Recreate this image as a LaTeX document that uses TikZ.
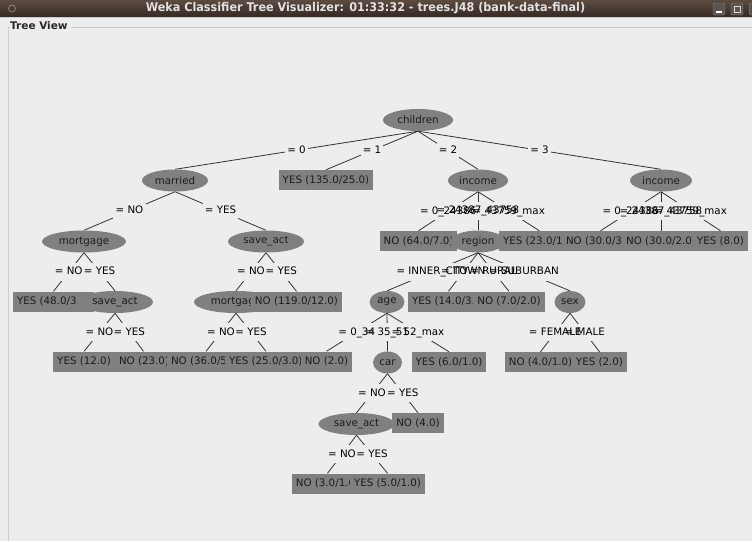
\documentclass[tikz,border=0pt]{standalone}
\usepackage{graphicx}
\usepackage{fontspec}
\setmainfont{DejaVu Sans}
\usetikzlibrary{shapes.geometric,calc}

\pgfdeclarelayer{backdrop}
\pgfdeclarelayer{edgelayer}
\pgfdeclarelayer{tagbg}
\pgfsetlayers{backdrop,edgelayer,tagbg,main}

\definecolor{panel}{HTML}{EDEDED}
\definecolor{nodegray}{HTML}{808080}
\definecolor{nodetext}{HTML}{1C1C1C}
\definecolor{barTop}{HTML}{5C4B40}
\definecolor{barBot}{HTML}{352923}
\definecolor{frameline}{HTML}{C8CDD3}
\definecolor{titletext}{HTML}{E2E2E2}

\tikzset{
  every node/.style={font=\fontsize{10.3}{12}\selectfont},
  inner/.style={ellipse, fill=nodegray, text=nodetext, minimum height=22pt, inner sep=0pt},
  leaf/.style={rectangle, fill=nodegray, text=nodetext, minimum height=20pt,
               inner xsep=4pt, inner ysep=0pt},
  tag/.style={text=black, inner xsep=2pt, inner ysep=3.5pt, text height=8pt, text depth=2.5pt},
  edge/.style={draw=black!80, line width=0.8pt},
  winbtn/.style={draw=white!55!black, fill=barBot!80!white, rounded corners=1.5pt,
                 minimum width=12pt, minimum height=12pt, inner sep=0pt},
}

% left-aligned leaf text of fixed width (the part that stays visible)
\newcommand\cut[2]{\makebox[#1][l]{#2}}

% branch: line from parent to child with its test written half-way
\newcommand\treeedge[3]{%
  \node[tag] (#1-#2) at ($(#1.south)!0.5!(#2.north)$) {#3};
  \begin{pgfonlayer}{edgelayer}
    \draw[edge] (#1.south) -- (#2.north);
  \end{pgfonlayer}
  \begin{pgfonlayer}{tagbg}
    \fill[panel] (#1-#2.south west) rectangle (#1-#2.north east);
  \end{pgfonlayer}
}

\begin{document}
\begin{tikzpicture}[x=1pt, y=-1pt]
\useasboundingbox (0,0) rectangle (752,541);
\begin{pgfonlayer}{backdrop}
  \fill[panel] (0,0) rectangle (752,541);
\end{pgfonlayer}

% ---- window title bar ----
\shade[top color=barTop, bottom color=barBot] (0,0) rectangle (752,17);
\draw[white!80!black, line width=0.6pt] (0,17.5) -- (752,17.5);
\draw[white!60!black, line width=0.6pt] (12,8.5) circle (3.5);
\node[text=titletext, font=\bfseries\fontsize{12}{14}\selectfont] (title) at (365.5,8.5)
  {\scalebox{0.935}[1]{Weka Classifier Tree Visualizer: 01:33:32 - trees.J48 (bank-data-final)}};
\node[winbtn] (btnmin) at (719,9) {};
\draw[white, line width=1.2pt] ([xshift=-3pt,yshift=-3pt]btnmin.center) -- ([xshift=3pt,yshift=-3pt]btnmin.center);
\node[winbtn] (btnmax) at (737,9) {};
\draw[white!85!black, line width=0.8pt] ([xshift=-3pt,yshift=-3pt]btnmax.center) rectangle ([xshift=3pt,yshift=3pt]btnmax.center);
\node[winbtn, minimum width=6pt, anchor=west] (btnx) at (749,9) {};

% ---- titled panel frame ----
\node[anchor=west, text=black!85, inner sep=0pt, font=\bfseries\fontsize{10.5}{12}\selectfont] (panelname) at (10,26) {Tree View};
\coordinate (frameTL) at (8.5,27.5);
\coordinate (frameBL) at (8.5,541);
\coordinate (frameTR) at (752,27.5);
\draw[frameline, line width=0.8pt] (frameBL) -- (frameTL) -- ([xshift=-1pt]panelname.west |- frameTL);
\draw[frameline, line width=0.8pt] ([xshift=3pt]panelname.east |- frameTL) -- (frameTR);

% ---- level 1 ----
\node[inner, minimum width=70pt] (children) at (418,120) {children};

% ---- level 2 ----
\node[inner, minimum width=66pt] (married) at (175,180.5) {married};
\node[leaf, minimum width=94pt] (c1) at (326,180) {YES (135.0/25.0)};
\node[inner, minimum width=60pt] (incA) at (478,180.5) {income};
\node[inner, minimum width=62pt] (incB) at (661,180.5) {income};

% ---- level 3 ----
\node[inner, minimum width=84pt] (mortA) at (84,241.5) {mortgage};
\node[inner, minimum width=76pt] (saveA) at (266,241.5) {save\_act};
\node[leaf, minimum width=77pt] (iA1) at (418.5,241) {NO (64.0/7.0)};
\node[inner, minimum width=55pt] (region) at (478,241.5) {region};
\node[leaf, minimum width=81pt] (iA3) at (539.5,241) {\cut{73pt}{YES (23.0/1}};
\node[leaf, minimum width=77pt] (iB1) at (600.5,241) {\cut{69pt}{NO (30.0/3}};
\node[leaf, minimum width=77pt] (iB2) at (661,241) {NO (30.0/2.0)};
\node[leaf, minimum width=55pt] (iB3) at (720.5,241) {YES (8.0)};

% ---- level 4 ----
\node[leaf, minimum width=81pt] (mA1) at (53.5,301.5) {\cut{73pt}{YES (48.0/3.}};
\node[inner, minimum width=76pt] (saveB) at (115,302) {save\_act};
\node[inner, minimum width=84pt] (mortB) at (236,302) {mortgage};
\node[leaf, minimum width=91pt] (sA2) at (296.5,301.5) {NO (119.0/12.0)};
\node[inner, minimum width=35pt] (age) at (387,302) {age};
\node[leaf, minimum width=81pt] (r2) at (448.5,301.5) {\cut{73pt}{YES (14.0/3.}};
\node[leaf, minimum width=71pt] (r3) at (509,301.5) {NO (7.0/2.0)};
\node[inner, minimum width=31pt] (sex) at (570,302) {sex};

% ---- level 5 ----
\node[leaf, minimum width=61pt] (sB1) at (84,361.5) {YES (12.0)};
\node[leaf, minimum width=57pt] (sB2) at (143.5,361.5) {\cut{49pt}{NO (23.0)}};
\node[leaf, minimum width=78pt] (mB1) at (206,361.5) {\cut{70pt}{NO (36.0/5}};
\node[leaf, minimum width=82pt] (mB2) at (266,361.5) {\cut{74pt}{YES (25.0/3.0)}};
\node[leaf, minimum width=49pt] (ag1) at (326.5,361.5) {NO (2.0)};
\node[inner, minimum width=29pt] (car) at (387.5,362.5) {car};
\node[leaf, minimum width=74pt] (ag3) at (449,362) {YES (6.0/1.0)};
\node[leaf, minimum width=71pt] (sx1) at (540.5,362) {NO (4.0/1.0)};
\node[leaf, minimum width=55pt] (sx2) at (599.5,362) {YES (2.0)};

% ---- level 6 ----
\node[inner, minimum width=76pt] (saveC) at (356.5,424) {save\_act};
\node[leaf, minimum width=50pt] (car2) at (418,423) {NO (4.0)};

% ---- level 7 ----
\node[leaf, minimum width=71pt] (sC1) at (327.5,483.5) {NO (3.0/1.0)};
\node[leaf, minimum width=73pt] (sC2) at (387.5,483.5) {YES (5.0/1.0)};

% ---- branches ----
\treeedge{children}{married}{= 0}
\treeedge{children}{c1}{= 1}
\treeedge{children}{incA}{= 2}
\treeedge{children}{incB}{= 3}

\treeedge{married}{mortA}{= NO}
\treeedge{married}{saveA}{= YES}
\treeedge{incA}{iA1}{= 0\_24386}
\treeedge{incA}{region}{= 24387\_43758}
\treeedge{incA}{iA3}{= 43759\_max}
\treeedge{incB}{iB1}{= 0\_24386}
\treeedge{incB}{iB2}{= 24387\_43758}
\treeedge{incB}{iB3}{= 43759\_max}

\treeedge{mortA}{mA1}{= NO}
\treeedge{mortA}{saveB}{= YES}
\treeedge{saveA}{mortB}{= NO}
\treeedge{saveA}{sA2}{= YES}
\treeedge{region}{age}{= INNER\_CITY}
\treeedge{region}{r2}{= TOWN}
\treeedge{region}{r3}{= RURAL}
\treeedge{region}{sex}{= SUBURBAN}

\treeedge{saveB}{sB1}{= NO}
\treeedge{saveB}{sB2}{= YES}
\treeedge{mortB}{mB1}{= NO}
\treeedge{mortB}{mB2}{= YES}
\treeedge{age}{ag1}{= 0\_34}
\treeedge{age}{car}{= 35\_51}
\treeedge{age}{ag3}{= 52\_max}
\treeedge{sex}{sx1}{= FEMALE}
\treeedge{sex}{sx2}{= MALE}

\treeedge{car}{saveC}{= NO}
\treeedge{car}{car2}{= YES}
\treeedge{saveC}{sC1}{= NO}
\treeedge{saveC}{sC2}{= YES}
\end{tikzpicture}
\end{document}
